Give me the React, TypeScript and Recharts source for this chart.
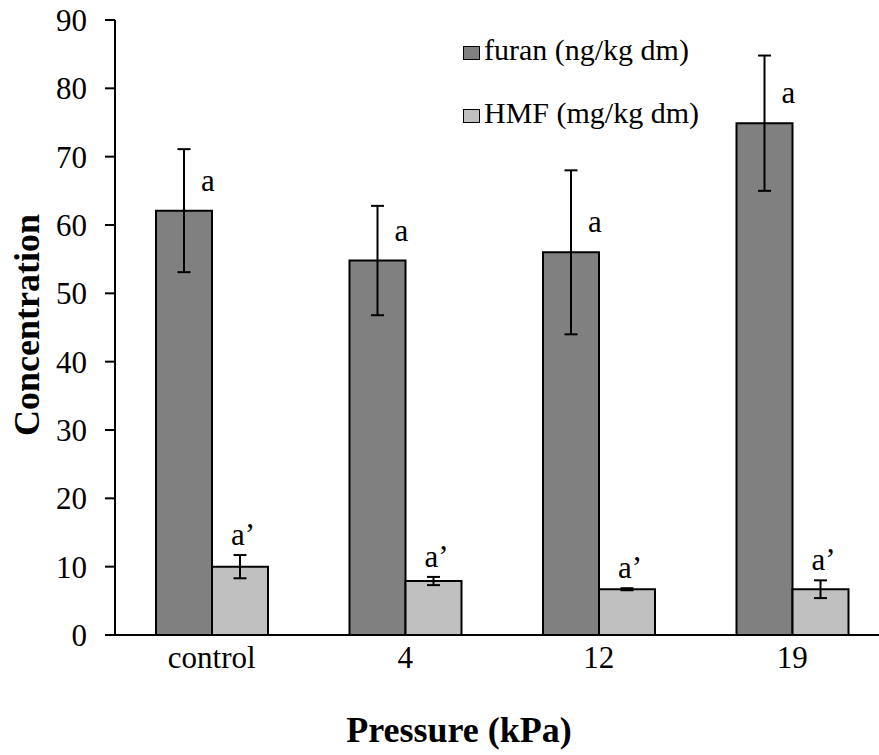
import {
  BarChart,
  Bar,
  XAxis,
  YAxis,
  ErrorBar,
  LabelList,
  Legend,
} from "recharts";

const categories = ["control", "4", "12", "19"];
const furan = [62.1, 54.8, 56.0, 74.9];
const furanErr = [9.0, 8.0, 12.0, 9.9];
const hmf = [10.0, 7.9, 6.7, 6.7];
const hmfErr = [1.7, 0.6, 0.15, 1.3];
const furanLetters = ["a", "a", "a", "a"];
const hmfLetters = ["a\u2019", "a\u2019", "a\u2019", "a\u2019"];
const yTicks = [0, 10, 20, 30, 40, 50, 60, 70, 80, 90];

const data = categories.map((name, i) => ({
  name,
  furan: furan[i],
  furanErr: furanErr[i],
  hmf: hmf[i],
  hmfErr: hmfErr[i],
  furanLetter: furanLetters[i],
  hmfLetter: hmfLetters[i],
}));

const FONT = "'Liberation Serif', 'Times New Roman', serif";

const FuranLabel = (props: any) => {
  const { x, y, width, value } = props;
  return (
    <text x={x + width / 2 + 17} y={y - 20} fontSize={31} fontFamily={FONT} fill="#000">
      {value}
    </text>
  );
};

const HmfLabel = (props: any) => {
  const { x, y, width, height, value, index } = props;
  const perUnit = height / hmf[index];
  const errTop = y - hmfErr[index] * perUnit;
  return (
    <text
      x={x + width / 2 + 3}
      y={errTop - 10}
      textAnchor="middle"
      fontSize={31}
      fontFamily={FONT}
      fill="#000"
    >
      {value}
    </text>
  );
};

const legendItems = [
  { label: "furan (ng/kg dm)", color: "#808080" },
  { label: "HMF (mg/kg dm)", color: "#c0c0c0" },
];

const renderLegend = () => (
  <div style={{ fontFamily: FONT, fontSize: 30, color: "#000" }}>
    {legendItems.map((it) => (
      <div
        key={it.label}
        style={{ display: "flex", alignItems: "center", height: 63, whiteSpace: "nowrap" }}
      >
        <span
          style={{
            display: "inline-block",
            width: 15,
            height: 12,
            background: it.color,
            border: "1.5px solid #000",
            marginRight: 4,
            marginTop: 6,
          }}
        />
        {it.label}
      </div>
    ))}
  </div>
);

export default function App() {
  return (
    <div
      style={{
        position: "absolute",
        left: 0,
        top: 0,
        width: 879,
        height: 755,
        overflow: "hidden",
        background: "#fff",
      }}
    >
      <BarChart
        width={900}
        height={755}
        data={data}
        margin={{ top: 20, right: 11, bottom: 80, left: 0 }}
        barSize={56}
        barGap={0}
      >
        <XAxis
          dataKey="name"
          height={40}
          tickLine={false}
          tickSize={0}
          tickMargin={11}
          axisLine={{ stroke: "#000", strokeWidth: 2 }}
          tick={{ fill: "#000", fontSize: 31, fontFamily: FONT }}
          label={{
            content: () => (
              <text
                x={459}
                y={742}
                textAnchor="middle"
                fontSize={36}
                fontWeight="bold"
                fontFamily={FONT}
                fill="#000"
              >
                Pressure (kPa)
              </text>
            ),
          }}
        />
        <YAxis
          width={115}
          domain={[0, 90]}
          ticks={yTicks}
          interval={0}
          tickSize={10}
          tickMargin={18}
          axisLine={{ stroke: "#000", strokeWidth: 2 }}
          tickLine={{ stroke: "#000", strokeWidth: 2 }}
          tick={{ fill: "#000", fontSize: 31, fontFamily: FONT }}
          label={{
            content: () => (
              <text
                x={27}
                y={325}
                transform="rotate(-90 27 325)"
                textAnchor="middle"
                dominantBaseline="central"
                fontSize={36}
                fontWeight="bold"
                fontFamily={FONT}
                fill="#000"
              >
                Concentration
              </text>
            ),
          }}
        />
        <Legend
          layout="vertical"
          align="center"
          verticalAlign="middle"
          content={renderLegend}
          wrapperStyle={{ left: 463, top: 18, width: 300 }}
        />
        <Bar
          dataKey="furan"
          name="furan (ng/kg dm)"
          fill="#808080"
          stroke="#000"
          strokeWidth={2}
          isAnimationActive={false}
        >
          <ErrorBar dataKey="furanErr" width={6.5} stroke="#000" strokeWidth={2} />
          <LabelList dataKey="furanLetter" content={FuranLabel} />
        </Bar>
        <Bar
          dataKey="hmf"
          name="HMF (mg/kg dm)"
          fill="#c0c0c0"
          stroke="#000"
          strokeWidth={2}
          isAnimationActive={false}
        >
          <ErrorBar dataKey="hmfErr" width={6.5} stroke="#000" strokeWidth={2} />
          <LabelList dataKey="hmfLetter" content={HmfLabel} />
        </Bar>
      </BarChart>
    </div>
  );
}
